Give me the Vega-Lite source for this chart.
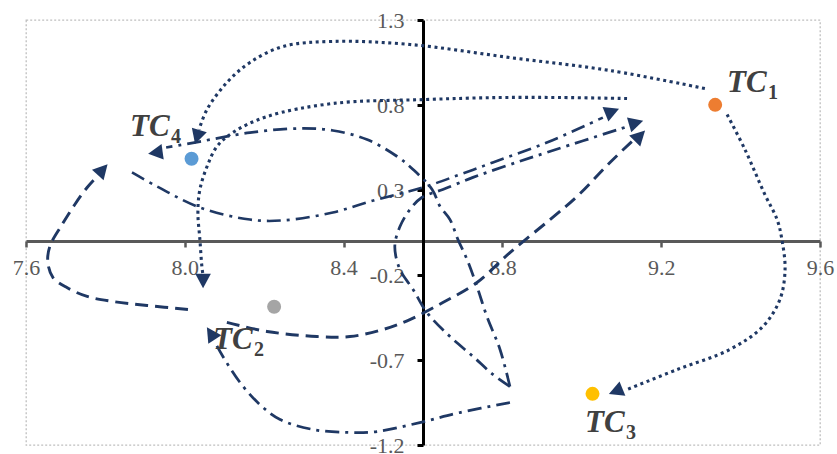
{
  "$schema": "https://vega.github.io/schema/vega-lite/v6.json",
  "width": 794,
  "height": 425,
  "autosize": "none",
  "padding": {"left": 26, "top": 20, "right": 17, "bottom": 9},
  "background": "white",
  "config": {
    "view": {"stroke": "#bfbfbf", "strokeDash": [2, 2], "strokeWidth": 1.3},
    "font": "Liberation Serif"
  },
  "datasets": {
    "paths": [
      {"path": "TC1-TC4", "source": "TC1", "i": 0, "x": 9.310, "y": 0.897},
      {"path": "TC1-TC4", "source": "TC1", "i": 1, "x": 9.071, "y": 1.003},
      {"path": "TC1-TC4", "source": "TC1", "i": 2, "x": 8.819, "y": 1.079},
      {"path": "TC1-TC4", "source": "TC1", "i": 3, "x": 8.567, "y": 1.156},
      {"path": "TC1-TC4", "source": "TC1", "i": 4, "x": 8.373, "y": 1.174},
      {"path": "TC1-TC4", "source": "TC1", "i": 5, "x": 8.247, "y": 1.144},
      {"path": "TC1-TC4", "source": "TC1", "i": 6, "x": 8.164, "y": 1.050},
      {"path": "TC1-TC4", "source": "TC1", "i": 7, "x": 8.106, "y": 0.932},
      {"path": "TC1-TC4", "source": "TC1", "i": 8, "x": 8.056, "y": 0.774},
      {"path": "TC1-TC4", "source": "TC1", "i": 9, "x": 8.036, "y": 0.656},

      {"path": "TC1-TC3", "source": "TC1", "i": 0, "x": 9.366, "y": 0.744},
      {"path": "TC1-TC3", "source": "TC1", "i": 1, "x": 9.411, "y": 0.538},
      {"path": "TC1-TC3", "source": "TC1", "i": 2, "x": 9.461, "y": 0.274},
      {"path": "TC1-TC3", "source": "TC1", "i": 3, "x": 9.492, "y": 0.126},
      {"path": "TC1-TC3", "source": "TC1", "i": 4, "x": 9.504, "y": 0.009},
      {"path": "TC1-TC3", "source": "TC1", "i": 5, "x": 9.512, "y": -0.168},
      {"path": "TC1-TC3", "source": "TC1", "i": 6, "x": 9.499, "y": -0.344},
      {"path": "TC1-TC3", "source": "TC1", "i": 7, "x": 9.456, "y": -0.503},
      {"path": "TC1-TC3", "source": "TC1", "i": 8, "x": 9.373, "y": -0.638},
      {"path": "TC1-TC3", "source": "TC1", "i": 9, "x": 9.240, "y": -0.756},
      {"path": "TC1-TC3", "source": "TC1", "i": 10, "x": 9.114, "y": -0.874},

      {"path": "TC1-TC2", "source": "TC1", "i": 0, "x": 9.114, "y": 0.838},
      {"path": "TC1-TC2", "source": "TC1", "i": 1, "x": 8.945, "y": 0.844},
      {"path": "TC1-TC2", "source": "TC1", "i": 2, "x": 8.794, "y": 0.844},
      {"path": "TC1-TC2", "source": "TC1", "i": 3, "x": 8.603, "y": 0.832},
      {"path": "TC1-TC2", "source": "TC1", "i": 4, "x": 8.373, "y": 0.809},
      {"path": "TC1-TC2", "source": "TC1", "i": 5, "x": 8.207, "y": 0.732},
      {"path": "TC1-TC2", "source": "TC1", "i": 6, "x": 8.121, "y": 0.638},
      {"path": "TC1-TC2", "source": "TC1", "i": 7, "x": 8.081, "y": 0.556},
      {"path": "TC1-TC2", "source": "TC1", "i": 8, "x": 8.056, "y": 0.438},
      {"path": "TC1-TC2", "source": "TC1", "i": 9, "x": 8.038, "y": 0.303},
      {"path": "TC1-TC2", "source": "TC1", "i": 10, "x": 8.033, "y": 0.168},
      {"path": "TC1-TC2", "source": "TC1", "i": 11, "x": 8.038, "y": 0.009},
      {"path": "TC1-TC2", "source": "TC1", "i": 12, "x": 8.043, "y": -0.150},
      {"path": "TC1-TC2", "source": "TC1", "i": 13, "x": 8.046, "y": -0.203},

      {"path": "TC2-TC4", "source": "TC2", "i": 0, "x": 8.008, "y": -0.403},
      {"path": "TC2-TC4", "source": "TC2", "i": 1, "x": 7.905, "y": -0.379},
      {"path": "TC2-TC4", "source": "TC2", "i": 2, "x": 7.819, "y": -0.356},
      {"path": "TC2-TC4", "source": "TC2", "i": 3, "x": 7.754, "y": -0.326},
      {"path": "TC2-TC4", "source": "TC2", "i": 4, "x": 7.703, "y": -0.274},
      {"path": "TC2-TC4", "source": "TC2", "i": 5, "x": 7.668, "y": -0.215},
      {"path": "TC2-TC4", "source": "TC2", "i": 6, "x": 7.655, "y": -0.126},
      {"path": "TC2-TC4", "source": "TC2", "i": 7, "x": 7.660, "y": -0.032},
      {"path": "TC2-TC4", "source": "TC2", "i": 8, "x": 7.691, "y": 0.097},
      {"path": "TC2-TC4", "source": "TC2", "i": 9, "x": 7.723, "y": 0.215},
      {"path": "TC2-TC4", "source": "TC2", "i": 10, "x": 7.754, "y": 0.315},
      {"path": "TC2-TC4", "source": "TC2", "i": 11, "x": 7.779, "y": 0.379},

      {"path": "TC2-TC1", "source": "TC2", "i": 0, "x": 8.106, "y": -0.479},
      {"path": "TC2-TC1", "source": "TC2", "i": 1, "x": 8.207, "y": -0.532},
      {"path": "TC2-TC1", "source": "TC2", "i": 2, "x": 8.333, "y": -0.562},
      {"path": "TC2-TC1", "source": "TC2", "i": 3, "x": 8.416, "y": -0.562},
      {"path": "TC2-TC1", "source": "TC2", "i": 4, "x": 8.499, "y": -0.521},
      {"path": "TC2-TC1", "source": "TC2", "i": 5, "x": 8.567, "y": -0.462},
      {"path": "TC2-TC1", "source": "TC2", "i": 6, "x": 8.650, "y": -0.362},
      {"path": "TC2-TC1", "source": "TC2", "i": 7, "x": 8.736, "y": -0.244},
      {"path": "TC2-TC1", "source": "TC2", "i": 8, "x": 8.819, "y": -0.068},
      {"path": "TC2-TC1", "source": "TC2", "i": 9, "x": 8.920, "y": 0.126},
      {"path": "TC2-TC1", "source": "TC2", "i": 10, "x": 8.988, "y": 0.262},
      {"path": "TC2-TC1", "source": "TC2", "i": 11, "x": 9.071, "y": 0.462},
      {"path": "TC2-TC1", "source": "TC2", "i": 12, "x": 9.126, "y": 0.585},

      {"path": "TC3-TC1", "source": "TC3", "i": 0, "x": 8.819, "y": -0.856},
      {"path": "TC3-TC1", "source": "TC3", "i": 1, "x": 8.776, "y": -0.785},
      {"path": "TC3-TC1", "source": "TC3", "i": 2, "x": 8.726, "y": -0.679},
      {"path": "TC3-TC1", "source": "TC3", "i": 3, "x": 8.668, "y": -0.562},
      {"path": "TC3-TC1", "source": "TC3", "i": 4, "x": 8.610, "y": -0.421},
      {"path": "TC3-TC1", "source": "TC3", "i": 5, "x": 8.575, "y": -0.285},
      {"path": "TC3-TC1", "source": "TC3", "i": 6, "x": 8.542, "y": -0.168},
      {"path": "TC3-TC1", "source": "TC3", "i": 7, "x": 8.529, "y": -0.032},
      {"path": "TC3-TC1", "source": "TC3", "i": 8, "x": 8.542, "y": 0.085},
      {"path": "TC3-TC1", "source": "TC3", "i": 9, "x": 8.567, "y": 0.185},
      {"path": "TC3-TC1", "source": "TC3", "i": 10, "x": 8.597, "y": 0.256},
      {"path": "TC3-TC1", "source": "TC3", "i": 11, "x": 8.650, "y": 0.303},
      {"path": "TC3-TC1", "source": "TC3", "i": 12, "x": 8.726, "y": 0.374},
      {"path": "TC3-TC1", "source": "TC3", "i": 13, "x": 8.812, "y": 0.444},
      {"path": "TC3-TC1", "source": "TC3", "i": 14, "x": 8.912, "y": 0.521},
      {"path": "TC3-TC1", "source": "TC3", "i": 15, "x": 9.116, "y": 0.674},

      {"path": "TC3-TC4", "source": "TC3", "i": 0, "x": 8.819, "y": -0.856},
      {"path": "TC3-TC4", "source": "TC3", "i": 1, "x": 8.794, "y": -0.638},
      {"path": "TC3-TC4", "source": "TC3", "i": 2, "x": 8.761, "y": -0.444},
      {"path": "TC3-TC4", "source": "TC3", "i": 3, "x": 8.736, "y": -0.268},
      {"path": "TC3-TC4", "source": "TC3", "i": 4, "x": 8.711, "y": -0.109},
      {"path": "TC3-TC4", "source": "TC3", "i": 5, "x": 8.688, "y": 0.009},
      {"path": "TC3-TC4", "source": "TC3", "i": 6, "x": 8.668, "y": 0.126},
      {"path": "TC3-TC4", "source": "TC3", "i": 7, "x": 8.643, "y": 0.203},
      {"path": "TC3-TC4", "source": "TC3", "i": 8, "x": 8.623, "y": 0.303},
      {"path": "TC3-TC4", "source": "TC3", "i": 9, "x": 8.575, "y": 0.421},
      {"path": "TC3-TC4", "source": "TC3", "i": 10, "x": 8.535, "y": 0.497},
      {"path": "TC3-TC4", "source": "TC3", "i": 11, "x": 8.459, "y": 0.597},
      {"path": "TC3-TC4", "source": "TC3", "i": 12, "x": 8.373, "y": 0.650},
      {"path": "TC3-TC4", "source": "TC3", "i": 13, "x": 8.290, "y": 0.662},
      {"path": "TC3-TC4", "source": "TC3", "i": 14, "x": 8.164, "y": 0.638},
      {"path": "TC3-TC4", "source": "TC3", "i": 15, "x": 8.038, "y": 0.585},
      {"path": "TC3-TC4", "source": "TC3", "i": 16, "x": 7.953, "y": 0.550},

      {"path": "TC3-TC2", "source": "TC3", "i": 0, "x": 8.819, "y": -0.950},
      {"path": "TC3-TC2", "source": "TC3", "i": 1, "x": 8.693, "y": -1.009},
      {"path": "TC3-TC2", "source": "TC3", "i": 2, "x": 8.592, "y": -1.068},
      {"path": "TC3-TC2", "source": "TC3", "i": 3, "x": 8.484, "y": -1.121},
      {"path": "TC3-TC2", "source": "TC3", "i": 4, "x": 8.409, "y": -1.126},
      {"path": "TC3-TC2", "source": "TC3", "i": 5, "x": 8.323, "y": -1.109},
      {"path": "TC3-TC2", "source": "TC3", "i": 6, "x": 8.240, "y": -1.050},
      {"path": "TC3-TC2", "source": "TC3", "i": 7, "x": 8.189, "y": -0.962},
      {"path": "TC3-TC2", "source": "TC3", "i": 8, "x": 8.139, "y": -0.832},
      {"path": "TC3-TC2", "source": "TC3", "i": 9, "x": 8.096, "y": -0.679},
      {"path": "TC3-TC2", "source": "TC3", "i": 10, "x": 8.079, "y": -0.609},

      {"path": "TC4-TC1", "source": "TC4", "i": 0, "x": 7.867, "y": 0.403},
      {"path": "TC4-TC1", "source": "TC4", "i": 1, "x": 7.930, "y": 0.321},
      {"path": "TC4-TC1", "source": "TC4", "i": 2, "x": 8.038, "y": 0.197},
      {"path": "TC4-TC1", "source": "TC4", "i": 3, "x": 8.164, "y": 0.126},
      {"path": "TC4-TC1", "source": "TC4", "i": 4, "x": 8.247, "y": 0.121},
      {"path": "TC4-TC1", "source": "TC4", "i": 5, "x": 8.373, "y": 0.168},
      {"path": "TC4-TC1", "source": "TC4", "i": 6, "x": 8.484, "y": 0.244},
      {"path": "TC4-TC1", "source": "TC4", "i": 7, "x": 8.600, "y": 0.315},
      {"path": "TC4-TC1", "source": "TC4", "i": 8, "x": 8.693, "y": 0.391},
      {"path": "TC4-TC1", "source": "TC4", "i": 9, "x": 8.776, "y": 0.462},
      {"path": "TC4-TC1", "source": "TC4", "i": 10, "x": 8.912, "y": 0.579},
      {"path": "TC4-TC1", "source": "TC4", "i": 11, "x": 9.053, "y": 0.726}
    ],
    "heads": [
      {"path": "TC1-TC4", "x": 8.033, "y": 0.626, "heading": 197},
      {"path": "TC1-TC3", "x": 9.091, "y": -0.879, "heading": 248},
      {"path": "TC1-TC2", "x": 8.046, "y": -0.221, "heading": 180},
      {"path": "TC4-TC1", "x": 9.071, "y": 0.756, "heading": 68},
      {"path": "TC3-TC1", "x": 9.131, "y": 0.691, "heading": 74},
      {"path": "TC2-TC1", "x": 9.142, "y": 0.609, "heading": 45},
      {"path": "TC3-TC4", "x": 7.932, "y": 0.521, "heading": 262},
      {"path": "TC2-TC4", "x": 7.789, "y": 0.409, "heading": 42},
      {"path": "TC3-TC2", "x": 8.069, "y": -0.556, "heading": 327}
    ],
    "nodes": [
      {"name": "TC1", "x": 9.336, "y": 0.801},
      {"name": "TC2", "x": 8.225, "y": -0.387},
      {"name": "TC3", "x": 9.027, "y": -0.899},
      {"name": "TC4", "x": 8.017, "y": 0.484}
    ],
    "labels": [
      {"name": "TC1", "base": "TC", "sub": "1", "x": 9.366, "y": 0.879},
      {"name": "TC2", "base": "TC", "sub": "2", "x": 8.071, "y": -0.638},
      {"name": "TC3", "base": "TC", "sub": "3", "x": 9.008, "y": -1.121},
      {"name": "TC4", "base": "TC", "sub": "4", "x": 7.862, "y": 0.615}
    ]
  },
  "encoding": {
    "x": {
      "field": "x",
      "type": "quantitative",
      "scale": {"domain": [7.6, 9.6], "nice": false, "zero": false},
      "axis": {
        "orient": "bottom",
        "offset": -204,
        "title": null,
        "grid": false,
        "values": [7.6, 8.0, 8.4, 8.8, 9.2, 9.6],
        "format": ".1f",
        "domainColor": "#595959",
        "domainWidth": 3,
        "tickColor": "#595959",
        "tickWidth": 2.5,
        "tickSize": 6,
        "labelColor": "#595959",
        "labelFont": "Liberation Serif",
        "labelFontSize": 22,
        "labelPadding": 10,
        "labelFlush": false,
        "labelOverlap": false
      }
    },
    "y": {
      "field": "y",
      "type": "quantitative",
      "scale": {"domain": [-1.2, 1.3], "nice": false, "zero": false},
      "axis": {
        "orient": "left",
        "offset": -397,
        "title": null,
        "grid": false,
        "values": [-1.2, -0.7, -0.2, 0.3, 0.8, 1.3],
        "labelExpr": "replace(format(datum.value, '.1f'), '\u2212', '-')",
        "domainColor": "#000000",
        "domainWidth": 3,
        "tickColor": "#000000",
        "tickWidth": 3,
        "tickSize": 6,
        "labelColor": "#595959",
        "labelFont": "Liberation Serif",
        "labelFontSize": 22,
        "labelPadding": 13,
        "labelFlush": false,
        "labelOverlap": false
      }
    }
  },
  "layer": [
    {
      "data": {"name": "paths"},
      "mark": {"type": "line", "interpolate": "catmull-rom", "color": "#1F3864", "strokeCap": "butt"},
      "encoding": {
        "detail": {"field": "path", "type": "nominal"},
        "order": {"field": "i", "type": "quantitative"},
        "strokeDash": {
          "field": "source",
          "type": "nominal",
          "scale": {
            "domain": ["TC1", "TC2", "TC3", "TC4"],
            "range": [[3, 3.6], [13, 7], [14, 6, 3, 6], [14, 6, 3, 6]]
          },
          "legend": null
        },
        "strokeWidth": {
          "field": "source",
          "type": "nominal",
          "scale": {"domain": ["TC1", "TC2", "TC3", "TC4"], "range": [3.1, 2.6, 2.6, 2.6]},
          "legend": null
        }
      }
    },
    {
      "data": {"name": "heads"},
      "mark": {"type": "point", "filled": true, "opacity": 1, "shape": "M0,-1L0.8,0.5L-0.8,0.5Z", "size": 380, "color": "#1F3864", "strokeWidth": 0},
      "encoding": {
        "angle": {"field": "heading", "type": "quantitative", "scale": null}
      }
    },
    {
      "data": {"name": "nodes"},
      "mark": {"type": "circle", "size": 195, "opacity": 1},
      "encoding": {
        "color": {
          "field": "name",
          "type": "nominal",
          "scale": {"domain": ["TC1", "TC2", "TC3", "TC4"], "range": ["#ED7D31", "#A5A5A5", "#FFC000", "#5B9BD5"]},
          "legend": null
        }
      }
    },
    {
      "data": {"name": "labels"},
      "mark": {"type": "text", "align": "left", "baseline": "alphabetic", "font": "Liberation Serif", "fontSize": 31, "fontStyle": "italic", "fontWeight": "bold", "color": "#404040"},
      "encoding": {"text": {"field": "base"}}
    },
    {
      "data": {"name": "labels"},
      "mark": {"type": "text", "align": "left", "baseline": "alphabetic", "dx": 41, "dy": 7, "font": "Liberation Serif", "fontSize": 20, "fontWeight": "bold", "color": "#404040"},
      "encoding": {"text": {"field": "sub"}}
    }
  ]
}
